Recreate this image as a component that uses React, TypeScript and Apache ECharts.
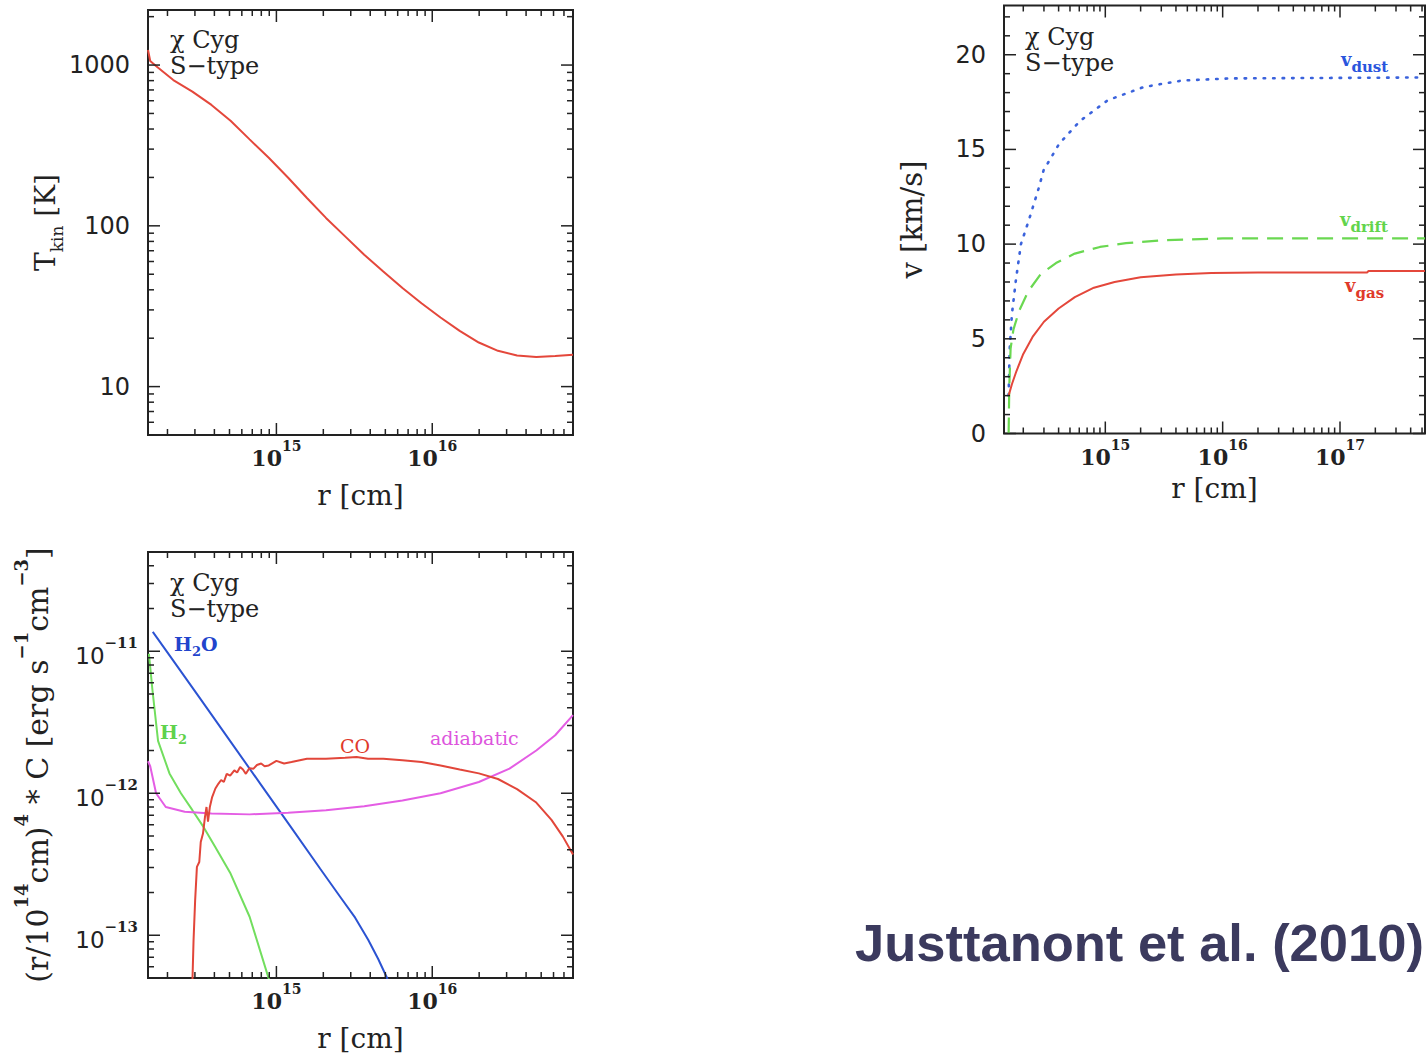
import React, { useEffect, useRef } from "react";
import * as echarts from "echarts";

// ---------- Panel 1: kinetic temperature ----------
const TK_R = [1.5e14, 1.55e14, 1.68e14, 2.18e14, 2.89e14, 3.83e14, 5.08e14, 6.73e14, 8.93e14, 1.19e15, 1.57e15, 2.08e15, 2.76e15, 3.66e15, 4.85e15, 6.44e15, 8.53e15, 1.13e16, 1.5e16, 1.99e16, 2.64e16, 3.5e16, 4.65e16, 6.15e16, 8.0e16];
const TK_T = [1240, 1060, 990, 807, 684, 565, 450, 345, 265, 199, 149, 112, 86, 66, 52, 41, 33, 26.9, 22.2, 18.8, 16.7, 15.6, 15.3, 15.5, 15.8];

// ---------- Panel 2: velocities ----------
const VGAS_R = [1.5e14, 1.6e14, 1.75e14, 2.0e14, 2.4e14, 3.0e14, 4.0e14, 5.5e14, 8e14, 1.2e15, 2e15, 4e15, 8e15, 2e16, 1e17, 1.7e17, 1.75e17, 5.3e17];
const VGAS_V = [2.0, 2.6, 3.3, 4.2, 5.1, 5.9, 6.6, 7.2, 7.7, 8.0, 8.25, 8.4, 8.48, 8.5, 8.5, 8.5, 8.58, 8.58];
const VDRIFT_R = [1.5e14, 1.52e14, 1.56e14, 1.65e14, 1.85e14, 2.2e14, 2.8e14, 3.8e14, 5.5e14, 9e14, 1.5e15, 3e15, 1e16, 5.3e17];
const VDRIFT_V = [0, 2.5, 4.5, 5.5, 6.5, 7.5, 8.4, 9.0, 9.5, 9.85, 10.05, 10.2, 10.3, 10.3];
const VDUST_R = [1.5e14, 1.53e14, 1.6e14, 1.73e14, 1.91e14, 2.24e14, 2.69e14, 2.98e14, 4.05e14, 6.08e14, 1.05e15, 2.14e15, 4.53e15, 1.17e16, 5.3e17];
const VDUST_V = [2.0, 4.4, 6.3, 8.1, 10.0, 11.3, 12.9, 13.9, 15.3, 16.5, 17.6, 18.3, 18.64, 18.75, 18.8];

// ---------- Panel 3: cooling rates (erg s^-1 cm^-3, times (r/1e14 cm)^4) ----------
const H2O_R = [1.61e14, 2.1e14, 3.27e14, 5.08e14, 7.91e14, 1.23e15, 1.91e15, 2.57e15, 3.2e15, 3.88e15, 4.5e15, 5.13e15, 5.4e15];
const H2O_C = [1.37e-11, 9.1e-12, 4.58e-12, 2.31e-12, 1.16e-12, 5.85e-13, 2.94e-13, 1.86e-13, 1.33e-13, 9.3e-14, 6.8e-14, 5.0e-14, 4.2e-14];
const H2_R = [1.52e14, 1.56e14, 1.6e14, 1.74e14, 2.06e14, 2.44e14, 2.89e14, 3.42e14, 4.06e14, 5.08e14, 6.73e14, 8.93e14, 9.6e14];
const H2_C = [9.6e-12, 7.2e-12, 5.4e-12, 2.34e-12, 1.38e-12, 1.0e-12, 7.6e-13, 5.75e-13, 4.17e-13, 2.72e-13, 1.35e-13, 4.95e-14, 3.8e-14];
const ADIA_R = [1.5e14, 1.55e14, 1.69e14, 1.95e14, 2.58e14, 3.83e14, 6.73e14, 1.19e15, 2.08e15, 3.66e15, 6.44e15, 1.13e16, 1.99e16, 3.13e16, 4.65e16, 6.15e16, 8.0e16];
const ADIA_C = [1.68e-12, 1.55e-12, 1.0e-12, 8.0e-13, 7.4e-13, 7.2e-13, 7.1e-13, 7.3e-13, 7.6e-13, 8.1e-13, 8.9e-13, 1.0e-12, 1.2e-12, 1.49e-12, 2.0e-12, 2.56e-12, 3.55e-12];
const CO_R = [2.88e14, 2.94e14, 3.01e14, 3.09e14, 3.2e14, 3.27e14, 3.38e14, 3.48e14, 3.56e14, 3.64e14, 3.74e14, 3.87e14, 4.06e14, 4.25e14, 4.42e14, 4.6e14, 4.8e14, 5.05e14, 5.37e14, 5.6e14, 5.85e14, 6.1e14, 6.37e14, 6.7e14, 7.13e14, 7.5e14, 7.98e14, 8.4e14, 8.93e14, 1.0e15, 1.12e15, 1.25e15, 1.57e15, 2.08e15, 2.76e15, 3.27e15, 3.87e15, 4.85e15, 6.44e15, 8.53e15, 1.13e16, 1.5e16, 1.99e16, 2.64e16, 3.5e16, 4.65e16, 5.82e16, 6.89e16, 8.0e16];
const CO_C = [4.0e-14, 9.2e-14, 1.76e-13, 3.03e-13, 3.28e-13, 4.54e-13, 5.2e-13, 6.8e-13, 8.0e-13, 6.3e-13, 8.0e-13, 9.4e-13, 1.08e-12, 1.17e-12, 1.24e-12, 1.2e-12, 1.37e-12, 1.33e-12, 1.45e-12, 1.4e-12, 1.53e-12, 1.47e-12, 1.37e-12, 1.5e-12, 1.49e-12, 1.58e-12, 1.62e-12, 1.55e-12, 1.57e-12, 1.69e-12, 1.62e-12, 1.66e-12, 1.75e-12, 1.75e-12, 1.78e-12, 1.8e-12, 1.75e-12, 1.75e-12, 1.71e-12, 1.66e-12, 1.57e-12, 1.47e-12, 1.38e-12, 1.26e-12, 1.07e-12, 8.6e-13, 6.5e-13, 4.95e-13, 3.7e-13];

// axis ranges
const X1_RANGE = [1.5e14, 8e16];
const Y1_RANGE = [5, 2200];
const X2_RANGE = [1.37e14, 5.3e17];
const Y2_RANGE = [0, 22.6];
const X3_RANGE = [1.5e14, 8e16];
const Y3_RANGE = [5e-14, 5e-11];
const Y3_SCALE = 1e14; // plotted values are multiplied by this (log-axis precision)

const SERIF = "DejaVu Serif";
const SANS = "DejaVu Sans";
const INK = "#222";

const zip = (a: number[], b: number[], s = 1) => a.map((v, i) => [v, b[i] * s]);

function logTickList(min: number, max: number) {
  const out: { v: number; major: boolean }[] = [];
  for (let d = Math.floor(Math.log10(min)); d <= Math.ceil(Math.log10(max)); d++) {
    for (let m = 1; m <= 9; m++) {
      const v = m * Math.pow(10, d);
      if (v >= min * 0.9999 && v <= max * 1.0001) out.push({ v, major: m === 1 });
    }
  }
  return out;
}
function linTickList(min: number, max: number, step: number, majorEvery: number) {
  const out: { v: number; major: boolean }[] = [];
  for (let i = 0; min + i * step <= max + 1e-9; i++) {
    const v = min + i * step;
    out.push({ v, major: i % majorEvery === 0 });
  }
  return out;
}
const isDecade = (v: number) => {
  const l = Math.log10(v);
  return Math.abs(l - Math.round(l)) < 1e-6;
};

const MAJOR = 12;
const MINOR = 6;

function tickData(xt: { v: number; major: boolean }[], yt: { v: number; major: boolean }[], xRef: number, yRef: number) {
  const d: number[][] = [];
  xt.forEach((t) => d.push([t.v, yRef, 0, t.major ? MAJOR : MINOR]));
  yt.forEach((t) => d.push([xRef, t.v, 1, t.major ? MAJOR : MINOR]));
  return d;
}

const renderTick = (params: any, api: any) => {
  const cs = params.coordSys;
  const pt = api.coord([api.value(0), api.value(1)]);
  const kind = api.value(2);
  const len = api.value(3);
  const style = { stroke: INK, lineWidth: 1.5 };
  if (kind === 0) {
    const bottom = cs.y + cs.height;
    return {
      type: "group",
      children: [
        { type: "line", shape: { x1: pt[0], y1: bottom, x2: pt[0], y2: bottom - len }, style },
        { type: "line", shape: { x1: pt[0], y1: cs.y, x2: pt[0], y2: cs.y + len }, style },
      ],
    };
  }
  const right = cs.x + cs.width;
  return {
    type: "group",
    children: [
      { type: "line", shape: { x1: cs.x, y1: pt[1], x2: cs.x + len, y2: pt[1] }, style },
      { type: "line", shape: { x1: right, y1: pt[1], x2: right - len, y2: pt[1] }, style },
    ],
  };
};

const powRich = {
  b: { fontFamily: SERIF, fontSize: 22, fontWeight: "bold", color: INK, lineHeight: 30, verticalAlign: "bottom" },
  s: { fontFamily: SERIF, fontSize: 14, fontWeight: "bold", color: INK, verticalAlign: "top" },
};

const xLabel = {
  margin: 4,
  formatter: (v: number) => (isDecade(v) ? `{b|10}{s|${Math.round(Math.log10(v))}}` : ""),
  rich: powRich,
};

const nameStyle = { fontFamily: SERIF, fontSize: 28, color: INK };

function buildOption() {
  const grids = [
    { left: 148, top: 10, width: 425, height: 425 },
    { left: 1004, top: 5.5, width: 425, height: 428 },
    { left: 148, top: 552, width: 425, height: 426 },
  ].map((g) => ({ ...g, show: true, borderColor: INK, borderWidth: 2, backgroundColor: "transparent" }));

  const xAxis = [
    {
      gridIndex: 0, type: "log", logBase: 10, min: X1_RANGE[0], max: X1_RANGE[1],
      axisLine: { show: false }, axisTick: { show: false }, splitLine: { show: false },
      axisLabel: xLabel, name: "r [cm]", nameLocation: "middle", nameGap: 46, nameTextStyle: nameStyle,
    },
    {
      gridIndex: 1, type: "log", logBase: 10, min: X2_RANGE[0], max: X2_RANGE[1],
      axisLine: { show: false }, axisTick: { show: false }, splitLine: { show: false },
      axisLabel: xLabel, name: "r [cm]", nameLocation: "middle", nameGap: 41, nameTextStyle: nameStyle,
    },
    {
      gridIndex: 2, type: "log", logBase: 10, min: X3_RANGE[0], max: X3_RANGE[1],
      axisLine: { show: false }, axisTick: { show: false }, splitLine: { show: false },
      axisLabel: xLabel, name: "r [cm]", nameLocation: "middle", nameGap: 46, nameTextStyle: nameStyle,
    },
  ];

  const yAxis = [
    {
      gridIndex: 0, type: "log", logBase: 10, min: Y1_RANGE[0], max: Y1_RANGE[1],
      axisLine: { show: false }, axisTick: { show: false }, splitLine: { show: false },
      axisLabel: {
        margin: 18, fontFamily: SANS, fontSize: 24, color: INK,
        formatter: (v: number) => (isDecade(v) ? String(Math.round(v)) : ""),
      },
      name: "{m|T}{sub|kin}{m| [K]}", nameLocation: "middle", nameGap: 65,
      nameTextStyle: {
        ...nameStyle,
        rich: {
          m: { fontFamily: SERIF, fontSize: 28, color: INK, lineHeight: 34, verticalAlign: "top" },
          sub: { fontFamily: SERIF, fontSize: 17, color: INK, verticalAlign: "bottom" },
        },
      },
    },
    {
      gridIndex: 1, type: "value", min: Y2_RANGE[0], max: Y2_RANGE[1], interval: 5,
      axisLine: { show: false }, axisTick: { show: false }, splitLine: { show: false },
      axisLabel: {
        margin: 18, fontFamily: SANS, fontSize: 24, color: INK,
        formatter: (v: number) => (Math.abs(v % 5) < 1e-9 ? String(v) : ""),
      },
      name: "v [km/s]", nameLocation: "middle", nameGap: 78, nameTextStyle: { ...nameStyle, fontSize: 29 },
    },
    {
      gridIndex: 2, type: "log", logBase: 10, min: Y3_RANGE[0] * Y3_SCALE, max: Y3_RANGE[1] * Y3_SCALE,
      axisLine: { show: false }, axisTick: { show: false }, splitLine: { show: false },
      axisLabel: {
        margin: 10,
        formatter: (v: number) =>
          isDecade(v) ? `{b|10}{s|\u2212${-(Math.round(Math.log10(v)) - 14)}}` : "",
        rich: {
          b: { fontFamily: SANS, fontSize: 23, color: INK, lineHeight: 32, verticalAlign: "bottom" },
          s: { fontFamily: SERIF, fontSize: 15, fontWeight: "bold", color: INK, verticalAlign: "top" },
        },
      },
      name: "{n|(r/10}{sup|14}{n|cm)}{sup|4}{n| * C [erg s}{sup|\u22121}{n|cm}{sup|\u22123}{n|]}",
      nameLocation: "middle", nameGap: 96,
      nameTextStyle: {
        ...nameStyle,
        rich: {
          n: { fontFamily: SERIF, fontSize: 30, color: INK, lineHeight: 40, verticalAlign: "bottom" },
          sup: { fontFamily: SERIF, fontSize: 18, fontWeight: "bold", color: INK, verticalAlign: "top" },
        },
      },
    },
  ];

  const line = (name: string, xi: number, data: number[][], color: string, extra: any = {}) => ({
    name, type: "line", xAxisIndex: xi, yAxisIndex: xi, data, showSymbol: false, symbol: "none",
    clip: true, z: 3,
    lineStyle: { color, width: 2, ...extra },
  });

  const series: any[] = [
    line("Tkin", 0, zip(TK_R, TK_T), "#e4473b"),
    line("v_dust", 1, zip(VDUST_R, VDUST_V), "#3a62dc", { type: [1.5, 8], width: 2.6, cap: "round" }),
    line("v_drift", 1, zip(VDRIFT_R, VDRIFT_V), "#6ad851", { type: [16, 9], width: 2.2 }),
    line("v_gas", 1, zip(VGAS_R, VGAS_V), "#e4473b"),
    line("H2O", 2, zip(H2O_R, H2O_C, Y3_SCALE), "#2b53d2"),
    line("H2", 2, zip(H2_R, H2_C, Y3_SCALE), "#72de5e"),
    line("adiabatic", 2, zip(ADIA_R, ADIA_C, Y3_SCALE), "#e45de4"),
    line("CO", 2, zip(CO_R, CO_C, Y3_SCALE), "#e2463a"),
    {
      type: "custom", xAxisIndex: 0, yAxisIndex: 0, renderItem: renderTick, z: 5, silent: true,
      data: tickData(logTickList(X1_RANGE[0], X1_RANGE[1]), logTickList(Y1_RANGE[0], Y1_RANGE[1]), X1_RANGE[0], Y1_RANGE[0]),
    },
    {
      type: "custom", xAxisIndex: 1, yAxisIndex: 1, renderItem: renderTick, z: 5, silent: true,
      data: tickData(logTickList(X2_RANGE[0], X2_RANGE[1]), linTickList(Y2_RANGE[0], Y2_RANGE[1], 1, 5), X2_RANGE[0], 1),
    },
    {
      type: "custom", xAxisIndex: 2, yAxisIndex: 2, renderItem: renderTick, z: 5, silent: true,
      data: tickData(
        logTickList(X3_RANGE[0], X3_RANGE[1]),
        logTickList(Y3_RANGE[0] * Y3_SCALE, Y3_RANGE[1] * Y3_SCALE),
        X3_RANGE[0],
        Y3_RANGE[0] * Y3_SCALE * 2
      ),
    },
  ];

  const starText = (x: number, y: number, text: string) => ({
    type: "text", x, y, z: 10,
    style: { text, fontFamily: SERIF, fontSize: 24, lineHeight: 24, fill: INK, verticalAlign: "middle" },
  });
  const starLabel = (x: number, y: number) => [starText(x, y, "\u03c7 Cyg"), starText(x, y + 26, "S\u2212type")];

  const richLabel = (x: number, y: number, text: string, color: string) => ({
    type: "text", x, y, z: 10,
    style: {
      text, fill: color, verticalAlign: "middle",
      rich: {
        c: { fontFamily: SERIF, fontSize: 19, fontWeight: "bold", fill: color, lineHeight: 24, verticalAlign: "top" },
        d: { fontFamily: SERIF, fontSize: 13, fontWeight: "bold", fill: color, verticalAlign: "bottom" },
        v: { fontFamily: SERIF, fontSize: 18, fontWeight: "bold", fill: color, lineHeight: 24, verticalAlign: "top" },
        s: { fontFamily: SERIF, fontSize: 15, fontWeight: "bold", fill: color, verticalAlign: "bottom" },
        p: { fontFamily: SERIF, fontSize: 19, fill: color, lineHeight: 24, verticalAlign: "middle" },
      },
    },
  });

  const graphic = [
    ...starLabel(170, 40),
    ...starLabel(1025, 37),
    ...starLabel(170, 583),
    richLabel(174, 646, "{c|H}{d|2}{c|O}", "#2244cc"),
    richLabel(160, 734, "{c|H}{d|2}", "#5fd24c"),
    richLabel(340, 746, "{p|CO}", "#e03a2a"),
    richLabel(430, 738, "{p|adiabatic}", "#dd55dd"),
    richLabel(1341, 62, "{v|v}{s|dust}", "#2a55dd"),
    richLabel(1340, 222, "{v|v}{s|drift}", "#62d44c"),
    richLabel(1345, 288, "{v|v}{s|gas}", "#e03a2a"),
    {
      type: "text", x: 855, y: 942, z: 10,
      style: {
        text: "Justtanont et al. (2010)", fontFamily: "Liberation Sans", fontWeight: "bold",
        fontSize: 52.5, fill: "#3b3a5e", verticalAlign: "middle",
      },
    },
  ];

  return {
    animation: false,
    backgroundColor: "#ffffff",
    grid: grids,
    xAxis,
    yAxis,
    series,
    graphic,
  };
}

export default function App() {
  const ref = useRef<HTMLDivElement>(null);
  useEffect(() => {
    if (!ref.current) return;
    const chart = echarts.init(ref.current, undefined, { renderer: "svg" });
    chart.setOption(buildOption() as any);
    return () => chart.dispose();
  }, []);
  return (
    <div
      ref={ref}
      style={{ position: "absolute", left: 0, top: 0, width: 1428, height: 1060, background: "#fff" }}
    />
  );
}
